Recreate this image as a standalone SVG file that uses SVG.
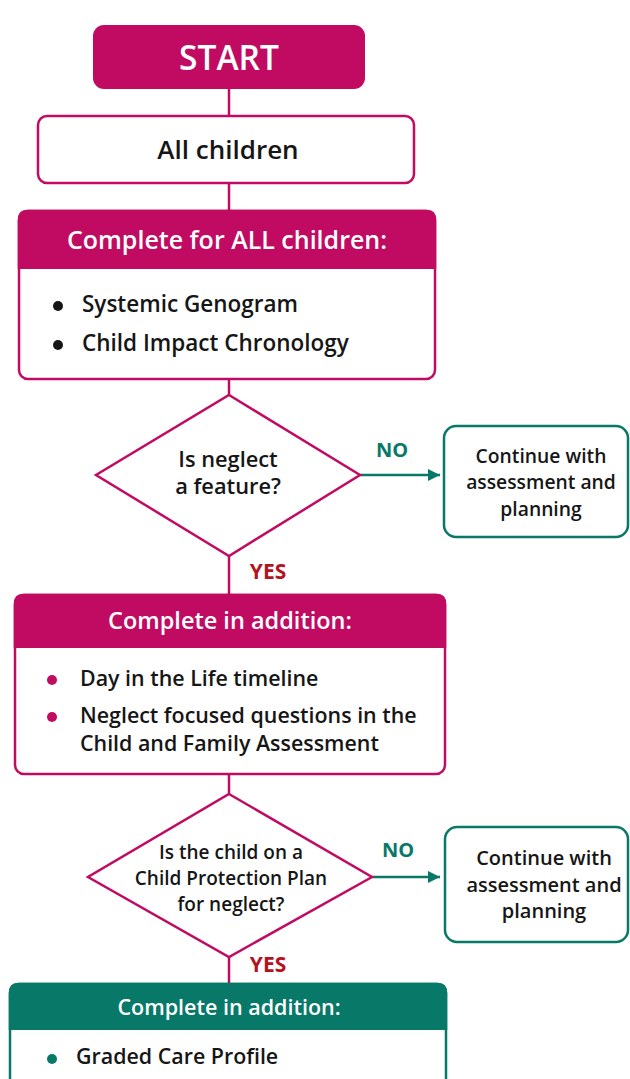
<svg xmlns="http://www.w3.org/2000/svg" width="630" height="1079" viewBox="0 0 630 1079">
<defs>
<style>
text{font-family:"Open Sans","Noto Sans","Liberation Sans",sans-serif;font-weight:600;}
.w{fill:#ffffff;}
.k{fill:#161616;}
.c{text-anchor:middle;}
.mag{fill:#c10b62;}
.tealf{fill:#087868;}
.box{fill:#ffffff;stroke:#c10b62;stroke-width:2.5;}
.tbox{fill:#ffffff;stroke:#087868;stroke-width:2.5;}
.ml{stroke:#c10b62;stroke-width:2.5;fill:none;}
.tl{stroke:#087868;stroke-width:2.5;fill:none;}
.no{fill:#087868;font-size:20px;text-anchor:middle;font-weight:700;}
.yes{fill:#b3131f;font-size:21px;text-anchor:middle;font-weight:700;}
</style>
<marker id="ah" viewBox="0 0 10 10" refX="10" refY="5" markerWidth="5" markerHeight="5" orient="auto" markerUnits="strokeWidth">
<path d="M0,0 L10,5 L0,10 Z" fill="#087868"/>
</marker>
</defs>
<rect width="630" height="1079" fill="#ffffff"/>

<g id="connectors">
<line class="ml" x1="229" y1="89" x2="229" y2="116"/>
<line class="ml" x1="229" y1="183" x2="229" y2="211"/>
<line class="ml" x1="229" y1="379" x2="229" y2="395"/>
<line class="ml" x1="229" y1="556" x2="229" y2="595"/>
<line class="ml" x1="229" y1="774" x2="229" y2="794"/>
<line class="ml" x1="229" y1="957" x2="229" y2="984"/>
<line class="tl" x1="360" y1="475" x2="440" y2="475" marker-end="url(#ah)"/>
<line class="tl" x1="372" y1="877" x2="440" y2="877" marker-end="url(#ah)"/>
<text class="no" x="392" y="457">NO</text>
<text class="no" x="398" y="857">NO</text>
<text class="yes" x="268" y="579">YES</text>
<text class="yes" x="268" y="972">YES</text>
</g>

<g id="start">
<rect class="mag" x="93" y="25" width="272" height="64" rx="11"/>
<text class="w c" x="229" y="70" font-size="33.5">START</text>
</g>

<g id="all-children">
<rect class="box" x="38" y="116" width="376" height="67" rx="9"/>
<text class="k c" x="228" y="159" font-size="26">All children</text>
</g>

<g id="complete-all">
<rect class="box" x="19" y="211" width="416" height="168" rx="9"/>
<path class="mag" d="M17.75,269 V220 Q17.75,209.75 27,209.75 H427 Q436.25,209.75 436.25,220 V269 Z"/>
<text class="w c" x="227" y="249" font-size="25" font-weight="500">Complete for ALL children:</text>
<circle cx="58" cy="306" r="5" fill="#161616"/>
<text class="k" x="82" y="312" font-size="22.5">Systemic Genogram</text>
<circle cx="58" cy="345" r="5" fill="#161616"/>
<text class="k" x="82" y="351" font-size="22.5">Child Impact Chronology</text>
</g>

<g id="decision-neglect">
<polygon class="box" points="229,395 360,475 229,556 96,475"/>
<text class="k c" x="228" y="467" font-size="21.8">Is neglect</text>
<text class="k c" x="228" y="494" font-size="21.8">a feature?</text>
</g>

<g id="continue-1">
<rect class="tbox" x="444" y="426" width="184" height="111" rx="12"/>
<text class="k c" x="541" y="463" font-size="19.3">Continue with</text>
<text class="k c" x="541" y="489" font-size="19.3">assessment and</text>
<text class="k c" x="541" y="516" font-size="19.3">planning</text>
</g>

<g id="complete-addition-1">
<rect class="box" x="15" y="595" width="430" height="179" rx="9"/>
<path class="mag" d="M13.75,648 V604 Q13.75,593.75 23,593.75 H437 Q446.25,593.75 446.25,604 V648 Z"/>
<text class="w c" x="230" y="629" font-size="23.5" font-weight="500">Complete in addition:</text>
<circle cx="52" cy="680" r="5" fill="#c10b62"/>
<text class="k" x="80" y="686" font-size="21.4">Day in the Life timeline</text>
<circle cx="52" cy="717" r="5" fill="#c10b62"/>
<text class="k" x="80" y="723" font-size="21.4">Neglect focused questions in the</text>
<text class="k" x="80" y="751" font-size="21.4">Child and Family Assessment</text>
</g>

<g id="decision-cpp">
<polygon class="box" points="229,794 372,877 229,957 88,877"/>
<text class="k c" x="231" y="859" font-size="19">Is the child on a</text>
<text class="k c" x="231" y="885" font-size="19">Child Protection Plan</text>
<text class="k c" x="231" y="911" font-size="19">for neglect?</text>
</g>

<g id="continue-2">
<rect class="tbox" x="445" y="827" width="183" height="115" rx="12"/>
<text class="k c" x="544" y="865" font-size="20">Continue with</text>
<text class="k c" x="544" y="892" font-size="20">assessment and</text>
<text class="k c" x="544" y="918" font-size="20">planning</text>
</g>

<g id="complete-addition-2">
<rect class="tbox" x="10" y="984" width="436" height="130" rx="9"/>
<path class="tealf" d="M8.75,1030 V993 Q8.75,982.75 18,982.75 H438 Q447.25,982.75 447.25,993 V1030 Z"/>
<text class="w c" x="229" y="1015" font-size="21.5" font-weight="500">Complete in addition:</text>
<circle cx="52" cy="1059" r="5" fill="#087868"/>
<text class="k" x="76" y="1064" font-size="21.4">Graded Care Profile</text>
</g>
</svg>
